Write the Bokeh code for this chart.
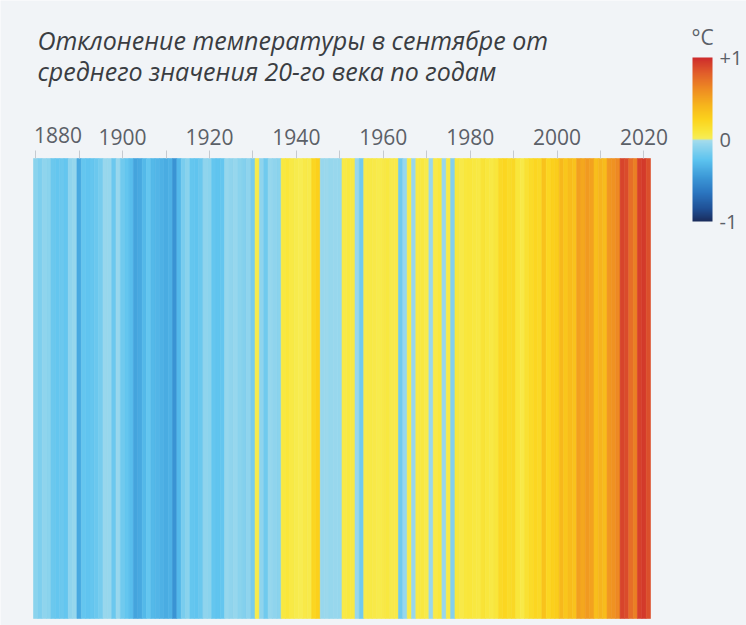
from bokeh.plotting import figure
from bokeh.models import (ColumnDataSource, LinearColorMapper, ColorBar,
                          FixedTicker, Label, Range1d, LinearAxis)
from bokeh.embed import file_html
from bokeh.resources import INLINE

# ---------------- data ----------------
years = list(range(1880, 2022))
anomaly = [
    -0.10, -0.14, -0.08, -0.10, -0.20, -0.22, -0.20, -0.22, -0.08, -0.06,   # 1880s
    -0.38, -0.22, -0.24, -0.22, -0.20, -0.16, -0.05, -0.06, -0.20, -0.05,   # 1890s
    -0.18, -0.22, -0.28, -0.40, -0.38, -0.30, -0.22, -0.30, -0.32, -0.34,   # 1900s
    -0.36, -0.34, -0.48, -0.30, -0.15, -0.10, -0.22, -0.24, -0.20, -0.08,   # 1910s
    -0.10, -0.22, -0.24, -0.22, -0.06, -0.08, -0.06, -0.10, -0.12, -0.08,   # 1920s
    -0.16, 0.04, -0.08, -0.18, -0.06, -0.08, -0.10, 0.08, 0.10, 0.07,       # 1930s
    0.04, 0.03, 0.06, 0.05, 0.22, 0.26, -0.05, -0.04, -0.06, -0.05,         # 1940s
    -0.06, 0.06, 0.08, 0.07, -0.05, -0.18, 0.05, 0.07, 0.06, 0.04,          # 1950s
    0.06, 0.08, 0.05, 0.06, -0.18, -0.06, 0.05, -0.05, 0.06, 0.08,          # 1960s
    0.05, -0.05, 0.06, 0.09, -0.05, 0.06, -0.12, 0.08, 0.06, 0.09,          # 1970s
    0.10, 0.08, 0.07, 0.12, 0.09, 0.07, 0.10, 0.20, 0.22, 0.18,             # 1980s
    0.21, 0.10, 0.06, 0.14, 0.18, 0.22, 0.20, 0.34, 0.22, 0.26,             # 1990s
    0.28, 0.40, 0.32, 0.38, 0.34, 0.52, 0.48, 0.54, 0.50, 0.36,             # 2000s
    0.42, 0.38, 0.56, 0.58, 0.62, 0.90, 0.88, 0.74, 0.66, 0.92,             # 2010s
    0.94, 0.86,                                                             # 2020s
]
decade_ticks = list(range(1880, 2021, 10))
labeled_years = list(range(1880, 2021, 20))
title_lines = ["Отклонение температуры в сентябре от",
               "среднего значения 20-го века по годам"]
legend_ticks = [-1, 0, 1]
legend_labels = ["-1", "0", "+1"]
legend_unit = "°C"

# colour scale stops (value, colour)
stops = [(-1.00, "#1a2b5a"), (-0.85, "#1f4f94"), (-0.65, "#2b75c0"),
         (-0.45, "#3d9ad8"), (-0.25, "#5cc3ef"), (-0.005, "#a6dcec"),
         (0.005, "#f6ee5a"), (0.10, "#f9e63a"), (0.25, "#fbd21c"),
         (0.40, "#f7b81c"), (0.60, "#ef8e22"), (0.80, "#e2602a"),
         (1.00, "#cd2a2c")]


def hex2rgb(h):
    return tuple(int(h[i:i + 2], 16) for i in (1, 3, 5))


def interp(v):
    for (v0, c0), (v1, c1) in zip(stops[:-1], stops[1:]):
        if v0 <= v <= v1:
            t = (v - v0) / (v1 - v0) if v1 > v0 else 0
            a, b = hex2rgb(c0), hex2rgb(c1)
            return "#%02x%02x%02x" % tuple(round(a[i] + (b[i] - a[i]) * t) for i in range(3))
    return stops[0][1] if v < stops[0][0] else stops[-1][1]


N = 256
palette = [interp(-1 + (i + 0.5) * 2 / N) for i in range(N)]

# ---------------- layout (pixels on the canvas) ----------------
W, H = 746, 625
STRIPE_LEFT, STRIPE_RIGHT = 33, 650
STRIPE_TOP, STRIPE_BOTTOM = 158, 618

BG = "#f1f4f7"
TXT = "#5b6067"
FONT = "Open Sans"

first, last = years[0] - 0.5, years[-1] + 0.5
k = (STRIPE_RIGHT - STRIPE_LEFT) / (last - first)     # pixels per year
x_start = first - STRIPE_LEFT / k
x_end = last + (W - STRIPE_RIGHT) / k

mapper = LinearColorMapper(palette=palette, low=-1, high=1)

src = ColumnDataSource(dict(
    left=[y - 0.5 for y in years],
    right=[y + 0.5 for y in years],
    anom=anomaly,
))

p = figure(width=W, height=H, output_backend="svg", toolbar_location=None,
           x_range=Range1d(x_start, x_end), y_range=Range1d(H, 0),
           x_axis_location=None, y_axis_location=None,
           min_border=0)
p.background_fill_color = BG
p.border_fill_color = BG
p.outline_line_color = None
p.grid.visible = False

p.quad(left="left", right="right", bottom=STRIPE_BOTTOM, top=STRIPE_TOP, source=src,
       fill_color={"field": "anom", "transform": mapper},
       line_color={"field": "anom", "transform": mapper}, line_width=0.6)

ax = LinearAxis(fixed_location=STRIPE_TOP)
ax.ticker = FixedTicker(ticks=decade_ticks)
ax.major_label_overrides = {t: (str(t) if (t in labeled_years and t != labeled_years[0]) else "")
                            for t in decade_ticks}
ax.axis_line_color = None
ax.minor_tick_line_color = None
ax.major_tick_in = 0
ax.major_tick_out = 8
ax.major_tick_line_color = "#c5cad0"
ax.major_label_text_font = FONT
ax.major_label_text_font_size = "21px"
ax.major_label_text_color = TXT
ax.major_label_standoff = 6
p.add_layout(ax, "above")

# first year label, left-aligned at its tick
p.add_layout(Label(x=labeled_years[0] - 0.4, y=134,
                   text=str(labeled_years[0]), text_align="left",
                   text_baseline="alphabetic", text_font=FONT,
                   text_font_size="21px", text_color=TXT))

# title
for i, line in enumerate(title_lines):
    p.add_layout(Label(x=37, x_units="screen", y=39 + 31 * i,
                       text=line, text_font=FONT, text_font_style="italic",
                       text_font_size="25px", text_color="#3a3d42",
                       text_baseline="alphabetic"))

# colour legend
cb = ColorBar(color_mapper=mapper, ticker=FixedTicker(ticks=legend_ticks),
              major_label_overrides=dict(zip(legend_ticks, legend_labels)),
              width=20, height=164, location=(692, 404),
              padding=0, margin=0,
              major_label_text_font=FONT, major_label_text_font_size="20px",
              major_label_text_color=TXT, label_standoff=7,
              major_tick_line_color=None, minor_tick_line_color=None,
              bar_line_color=None, border_line_color=None,
              background_fill_alpha=0)
p.add_layout(cb, "center")

p.add_layout(Label(x=702, x_units="screen", y=36, text=legend_unit,
                   text_align="center", text_baseline="alphabetic",
                   text_font=FONT, text_font_size="21px", text_color=TXT))

open("out.html", "w").write(file_html(p, INLINE))
